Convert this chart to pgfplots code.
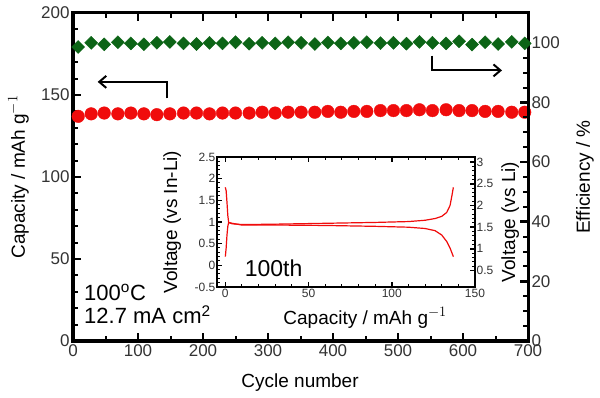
\documentclass[border=0pt]{standalone}
\usepackage{fontspec}
\setmainfont{Liberation Sans}
\usepackage{pgfplots}
\pgfplotsset{compat=1.18}
\usetikzlibrary{arrows.meta}
\definecolor{capred}{RGB}{240,12,12}
\definecolor{effgreen}{RGB}{12,100,22}

\pgfplotstableread{
x cap eff
8 137 98.6
28 138.5 100
48 139 99.5
69 138.5 100.2
89 139 99.8
109 138.5 99.5
129 138 100
149 138.5 100.3
170 139 99.8
190 139 99.6
210 138.5 100
230 139 99.8
250 139 100.2
271 139 99.7
291 139.5 100
311 139 99.8
331 139.5 100.2
351 139.5 100
372 139.5 99.6
392 140 100.1
412 139.5 99.8
432 140 100
452 140 100.2
473 140.5 99.9
493 140.5 100
513 140.5 99.7
533 141 100.3
553 140.5 100
574 141 99.8
594 140.5 100.5
614 140.5 99.4
634 140 100.2
654 140 99.6
675 139.5 100.3
695 139.5 99.8
}\maindata

\pgfplotstableread{
x v
0 1.80
0.5 1.72
1 1.45
1.5 1.15
2 0.99
4 0.96
10 0.94
30 0.95
60 0.97
90 0.99
110 1.01
120 1.04
126 1.08
130 1.13
133 1.22
135 1.38
136 1.58
137 1.80
}\chargedata

\pgfplotstableread{
x v
0 0.20
0.5 0.40
1 0.70
1.5 0.90
2 0.99
4 0.97
10 0.93
30 0.93
60 0.92
90 0.90
110 0.88
120 0.85
126 0.80
130 0.70
133 0.55
135 0.40
137 0.20
}\dischargedata

\begin{document}
\begin{tikzpicture}
\useasboundingbox (0,0) rectangle (600bp,398bp);
\pgfplotsset{
  mainstyle/.style={
    at={(73bp,57bp)}, anchor=south west, scale only axis,
    width=455bp, height=328bp,
    xmin=0, xmax=700,
    tick align=inside,
    major tick length=8bp, minor tick length=5bp,
    tick style={black, line width=2.5bp},
    minor tick style={line width=2bp},
    axis line style={line width=3bp},
    /pgf/number format/assume math mode=true,
    tick label style={font=\fontsize{17bp}{20bp}\selectfont, text=black!80},
    label style={font=\fontsize{19bp}{22bp}\selectfont},
  }
}
\begin{axis}[mainstyle,
  ymin=0, ymax=200,
  xtick={0,100,...,700}, minor x tick num=1,
  ytick={0,50,...,200}, minor y tick num=4,
  ytick pos=left,
  xlabel={Cycle number},
  ylabel={Capacity / mAh g$^{-1}$},
  xlabel style={at={(axis description cs:0.499,-0.128)}, anchor=center},
  ylabel style={at={(axis description cs:-0.12,0.5)}, anchor=center},
]
\addplot[only marks, mark=*, mark size=6.3bp, color=capred, mark options={draw=capred, fill=capred}] table[x=x, y=cap] {\maindata};
\draw[line width=2bp, -{Straight Barb[length=7bp,width=12bp,line width=2bp]}] (axis cs:145,148) -- (axis cs:145,158) -- (axis cs:38,158);
\draw[line width=2bp, -{Straight Barb[length=7bp,width=12bp,line width=2bp]}] (axis cs:552,174) -- (axis cs:552,165) -- (axis cs:660,165);
\node[anchor=west, inner sep=0pt, font=\fontsize{22bp}{26bp}\selectfont] at (axis cs:17,29.5) {100\textsuperscript{o}C};
\node[anchor=west, inner sep=0pt, font=\fontsize{22bp}{26bp}\selectfont] at (axis cs:17,16) {12.7 mA cm\textsuperscript{2}};
\end{axis}
\begin{axis}[mainstyle,
  ymin=0, ymax=110,
  axis y line*=right, axis x line=none,
  ytick={0,20,...,100}, minor y tick num=3,
  ylabel={Efficiency / \%},
  ylabel style={at={(axis description cs:1.125,0.5)}, anchor=center},
]
\addplot[only marks, mark=square*, mark size=4.6bp, color=effgreen, mark options={rotate=45, draw=effgreen, fill=effgreen}] table[x=x, y=eff] {\maindata};
\end{axis}

\pgfplotsset{
  insetstyle/.style={
    at={(217bp,111bp)}, anchor=south west, scale only axis,
    width=258bp, height=130bp,
    xmin=-5, xmax=150,
    tick align=inside,
    major tick length=5bp, minor tick length=3bp,
    tick style={black, line width=1.5bp},
    minor tick style={line width=1bp},
    axis line style={line width=2bp},
    /pgf/number format/assume math mode=true,
    tick label style={font=\fontsize{12bp}{14bp}\selectfont, text=black!80, inner sep=1.5bp},
    label style={font=\fontsize{19bp}{22bp}\selectfont},
  }
}
\begin{axis}[insetstyle,
  axis background/.style={fill=white},
  ymin=-0.5, ymax=2.5,
  xtick={0,50,100,150}, minor x tick num=4,
  ytick={-0.5,0,...,2.5}, minor y tick num=4,
  ytick pos=left,
  xlabel={Capacity / mAh g$^{-1}$},
  ylabel={Voltage (vs In-Li)},
  xlabel style={at={(axis description cs:0.574,-0.238)}, anchor=center},
  ylabel style={at={(axis description cs:-0.174,0.5)}, anchor=center},
]
\addplot[color=capred, line width=1.2bp] table[x=x, y=v] {\chargedata};
\addplot[color=capred, line width=1.2bp] table[x=x, y=v] {\dischargedata};
\node[font=\fontsize{23bp}{26bp}\selectfont] at (axis cs:29,-0.06) {100th};
\end{axis}
\begin{axis}[insetstyle,
  ymin=0.12, ymax=3.12,
  axis y line*=right, axis x line=none,
  ytick={0.5,1,...,3}, minor y tick num=4,
  ylabel={Voltage (vs Li)},
  ylabel style={at={(axis description cs:1.136,0.5)}, anchor=center},
]
\addplot[draw=none] coordinates {(0,1)};
\end{axis}
\end{tikzpicture}
\end{document}
